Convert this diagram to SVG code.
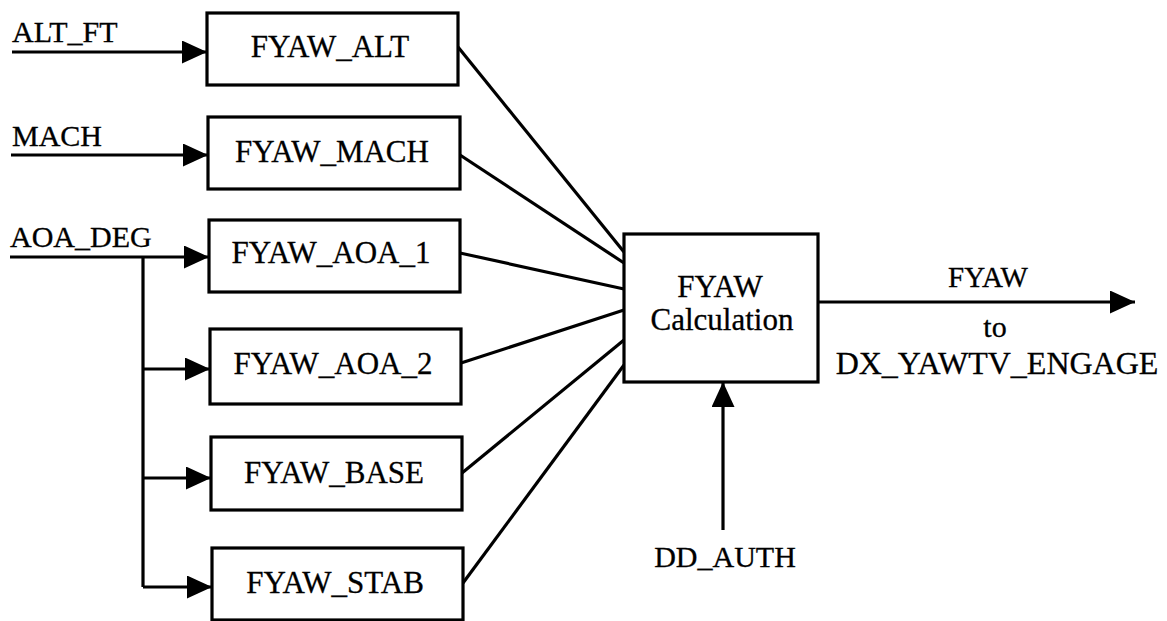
<svg xmlns="http://www.w3.org/2000/svg" width="1167" height="621" viewBox="0 0 1167 621">
  <style>
    .box { fill: #ffffff; stroke: #000000; stroke-width: 3.2; }
    .wire { fill: none; stroke: #000000; stroke-width: 3.2; }
    .arrow { marker-end: url(#head); }
    text { font-family: "Liberation Serif", "Times New Roman", serif; fill: #000000; stroke: #000000; stroke-width: 0.3; }
    .blk { font-size: 31px; text-anchor: middle; }
    .sig { font-size: 30px; }
    .mid { text-anchor: middle; }
  </style>
  <defs>
    <marker id="head" markerUnits="userSpaceOnUse" markerWidth="25" markerHeight="23"
            refX="25" refY="11.5" orient="auto">
      <path d="M0,0 L25,11.5 L0,23 Z" fill="#000000"/>
    </marker>
  </defs>

  <rect width="1167" height="621" fill="#ffffff"/>

  <!-- signal wiring -->
  <g id="connectors">
    <path class="wire arrow" d="M12,52 H207"/>
    <path class="wire arrow" d="M11,155 H208"/>
    <path class="wire arrow" d="M10,257 H209"/>
    <path class="wire" d="M143,257 V587"/>
    <path class="wire arrow" d="M143,369 H210"/>
    <path class="wire arrow" d="M143,478 H211"/>
    <path class="wire arrow" d="M143,587 H212"/>

    <path class="wire" d="M458,47 L624,252"/>
    <path class="wire" d="M460,155 L624,263"/>
    <path class="wire" d="M460,253 L624,289"/>
    <path class="wire" d="M461,363 L624,310"/>
    <path class="wire" d="M462,473 L624,340"/>
    <path class="wire" d="M463,583 L624,365"/>

    <path class="wire arrow" d="M818,302 H1135"/>
    <path class="wire arrow" d="M723,530 V382"/>
  </g>

  <!-- input signal names -->
  <g id="sig-alt-ft"><text class="sig" x="12" y="42">ALT_FT</text></g>
  <g id="sig-mach"><text class="sig" x="12" y="146">MACH</text></g>
  <g id="sig-aoa-deg"><text class="sig" x="10" y="247">AOA_DEG</text></g>
  <g id="sig-dd-auth"><text class="sig mid" x="725" y="567">DD_AUTH</text></g>

  <!-- lookup blocks -->
  <g id="fyaw-alt">
    <rect class="box" x="207" y="13" width="251" height="72"/>
    <text class="blk" x="330" y="57">FYAW_ALT</text>
  </g>
  <g id="fyaw-mach">
    <rect class="box" x="208" y="117" width="252" height="72"/>
    <text class="blk" x="332" y="162">FYAW_MACH</text>
  </g>
  <g id="fyaw-aoa-1">
    <rect class="box" x="209" y="220" width="251" height="72"/>
    <text class="blk" x="331" y="263">FYAW_AOA_1</text>
  </g>
  <g id="fyaw-aoa-2">
    <rect class="box" x="210" y="329" width="251" height="75"/>
    <text class="blk" x="333" y="374">FYAW_AOA_2</text>
  </g>
  <g id="fyaw-base">
    <rect class="box" x="211" y="437" width="251" height="73"/>
    <text class="blk" x="334" y="483">FYAW_BASE</text>
  </g>
  <g id="fyaw-stab">
    <rect class="box" x="212" y="548" width="251" height="72"/>
    <text class="blk" x="335" y="593">FYAW_STAB</text>
  </g>

  <!-- combining block -->
  <g id="fyaw-calc">
    <rect class="box" x="624" y="234" width="194" height="148"/>
    <text class="blk" x="720" y="297">FYAW</text>
    <text class="blk" x="722" y="330">Calculation</text>
  </g>

  <!-- output signal -->
  <g id="out-fyaw">
    <text class="mid" x="988" y="287" font-size="29">FYAW</text>
    <text class="mid" x="995" y="337" font-size="30">to</text>
    <text class="mid" x="997" y="374" font-size="32">DX_YAWTV_ENGAGE</text>
  </g>
</svg>
